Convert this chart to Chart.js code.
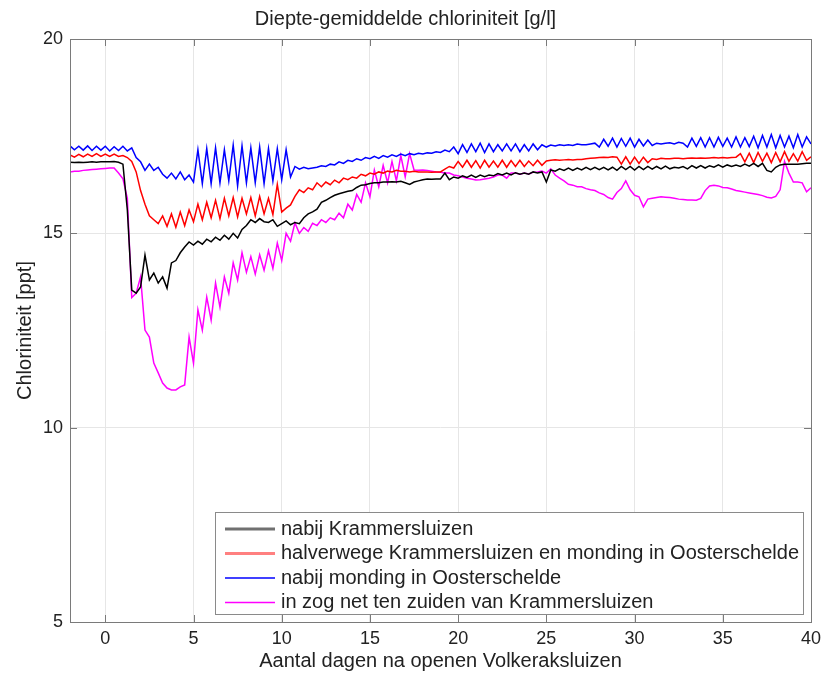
<!DOCTYPE html>
<html><head><meta charset="utf-8">
<script src="https://cdn.jsdelivr.net/npm/chart.js@4/dist/chart.umd.min.js"></script>
<style>html,body{margin:0;padding:0;background:#fff}#wrap{width:825px;height:678px}</style>
</head><body><div id="wrap"><canvas id="c" width="825" height="678"></canvas></div>
<script>
// ---- data (sampled every STEP days starting at START_DAY) ----
const START_DAY = -2, STEP = 0.25;
const xTickValues = [0, 5, 10, 15, 20, 25, 30, 35, 40];
const yTickValues = [5, 10, 15, 20];
const seriesLabels = [
  'nabij Krammersluizen',
  'halverwege Krammersluizen en monding in Oosterschelde',
  'nabij monding in Oosterschelde',
  'in zog net ten zuiden van Krammersluizen'
];
const black = [
16.83,16.82,16.83,16.82, 16.83,16.84,16.83,16.84, 16.84,16.84,16.85,16.83,
16.78,15.60,13.54,13.46, 13.62,14.44,13.80,13.98, 13.72,13.88,13.59,14.24,
14.30,14.50,14.65,14.78, 14.70,14.80,14.72,14.85, 14.78,14.90,14.82,14.95,
14.85,15.00,14.88,15.10, 15.20,15.35,15.28,15.38, 15.30,15.28,15.35,15.18,
15.25,15.32,15.22,15.28, 15.25,15.40,15.50,15.55, 15.62,15.80,15.85,15.92,
15.98,16.02,16.05,16.08, 16.10,16.18,16.24,16.25, 16.28,16.30,16.30,16.32,
16.32,16.33,16.32,16.34, 16.30,16.26,16.32,16.35, 16.38,16.40,16.39,16.40,
16.40,16.55,16.38,16.45, 16.42,16.48,16.44,16.50, 16.44,16.50,16.46,16.50,
16.48,16.54,16.50,16.55, 16.50,16.56,16.52,16.55, 16.52,16.58,16.55,16.58,
16.32,16.63,16.60,16.66, 16.62,16.68,16.62,16.68, 16.63,16.70,16.64,16.70,
16.64,16.70,16.63,16.70, 16.62,16.72,16.64,16.72, 16.63,16.72,16.64,16.72,
16.65,16.72,16.66,16.73, 16.66,16.70,16.68,16.72, 16.66,16.74,16.68,16.74,
16.68,16.74,16.70,16.76, 16.70,16.76,16.72,16.76, 16.72,16.78,16.73,16.80,
16.72,16.80,16.62,16.58, 16.70,16.76,16.78,16.78, 16.78,16.78,16.79,16.80,
16.80
];
const red = [
17.02,16.96,17.03,16.97, 17.04,16.98,17.05,16.98, 17.04,16.98,17.04,16.98,
17.00,16.95,16.85,16.58, 16.10,15.75,15.45,15.35, 15.25,15.45,15.18,15.50,
15.16,15.55,15.20,15.60, 15.30,15.75,15.35,15.80, 15.40,15.85,15.38,15.90,
15.45,15.92,15.42,15.90, 15.50,15.92,15.45,15.95, 15.50,15.90,15.48,16.26,
15.55,15.65,15.73,15.95, 16.12,16.05,16.17,16.12, 16.30,16.20,16.32,16.25,
16.37,16.30,16.42,16.38, 16.45,16.42,16.52,16.48, 16.55,16.52,16.58,16.55,
16.60,16.58,16.62,16.60, 16.60,16.58,16.60,16.58, 16.58,16.58,16.57,16.58,
16.58,16.65,16.72,16.68, 16.85,16.70,16.88,16.70, 16.87,16.68,16.88,16.70,
16.86,16.70,16.88,16.70, 16.87,16.72,16.88,16.72, 16.86,16.74,16.88,16.75,
16.86,16.88,16.89,16.88, 16.89,16.90,16.89,16.90, 16.90,16.92,16.93,16.94,
16.95,16.96,16.95,16.97, 16.96,16.78,16.97,16.78, 16.96,16.80,16.96,16.82,
16.92,16.90,16.93,16.92, 16.92,16.93,16.93,16.92, 16.93,16.94,16.93,16.94,
16.93,16.94,16.95,16.94, 16.95,16.94,16.95,16.96, 17.05,16.84,17.06,16.82,
17.08,16.85,17.06,16.82, 17.08,16.84,17.10,16.85, 17.05,16.86,17.10,16.88,
16.97
];
const blue = [
17.25,17.15,17.24,17.14, 17.25,17.13,17.24,17.14, 17.24,17.12,17.23,17.13,
17.24,17.12,17.20,16.95, 16.84,16.62,16.78,16.62, 16.70,16.52,16.42,16.55,
16.40,16.58,16.38,16.50, 16.32,17.15,16.28,17.18, 16.28,17.20,16.30,17.15,
16.35,17.27,16.22,17.25, 16.30,17.20,16.30,17.22, 16.28,17.18,16.35,17.18,
16.38,17.15,16.45,16.72, 16.65,16.70,16.66,16.68, 16.70,16.74,16.72,16.78,
16.76,16.84,16.80,16.88, 16.85,16.92,16.88,16.95, 16.92,16.98,16.93,17.00,
16.96,17.02,16.98,17.04, 17.00,17.05,17.02,17.06, 17.04,17.07,17.06,17.10,
17.08,17.14,17.10,17.22, 17.05,17.28,17.08,17.30, 17.10,17.32,17.08,17.30,
17.10,17.28,17.12,17.30, 17.12,17.30,17.10,17.28, 17.12,17.30,17.15,17.28,
17.22,17.27,17.25,17.28, 17.26,17.28,17.26,17.30, 17.28,17.28,17.30,17.32,
17.22,17.42,17.24,17.45, 17.22,17.44,17.24,17.45, 17.22,17.42,17.25,17.40,
17.26,17.32,17.30,17.32, 17.33,17.30,17.34,17.32, 17.22,17.45,17.24,17.46,
17.22,17.46,17.22,17.47, 17.24,17.45,17.22,17.48, 17.22,17.46,17.23,17.50,
17.20,17.52,17.22,17.54, 17.20,17.52,17.22,17.50, 17.20,17.54,17.22,17.48,
17.30
];
const magenta = [
16.58,16.60,16.60,16.62, 16.63,16.64,16.65,16.66, 16.67,16.68,16.68,16.55,
16.40,15.90,13.35,13.46, 13.88,12.51,12.33,11.66, 11.41,11.15,11.02,10.97,
10.97,11.05,11.10,12.33, 11.66,13.03,12.51,13.36, 12.77,13.72,13.10,13.88,
13.46,14.24,13.80,14.50, 14.00,14.40,13.95,14.45, 14.05,14.55,14.10,14.75,
14.30,15.00,14.80,15.27, 15.00,15.15,15.05,15.26, 15.20,15.35,15.28,15.40,
15.35,15.52,15.40,15.75, 15.60,16.00,15.80,16.30, 15.94,16.63,16.20,16.75,
16.30,16.85,16.35,17.00, 16.45,17.05,16.63,16.62, 16.63,16.62,16.60,16.58,
16.57,16.55,16.55,16.50, 16.48,16.45,16.42,16.40, 16.37,16.38,16.40,16.42,
16.45,16.50,16.50,16.42, 16.55,16.55,16.52,16.55, 16.53,16.57,16.58,16.60,
16.55,16.66,16.50,16.42, 16.35,16.26,16.24,16.20, 16.20,16.15,16.12,16.10,
16.04,16.00,15.92,15.88, 16.05,16.15,16.35,16.12, 15.98,15.94,15.68,15.88,
15.90,15.92,15.94,15.93, 15.92,15.90,15.88,15.87, 15.86,15.86,15.85,15.90,
16.10,16.22,16.24,16.22, 16.18,16.17,16.14,16.10, 16.08,16.06,16.04,16.02,
16.00,15.97,15.93,15.91, 15.95,16.12,16.85,16.55, 16.32,16.32,16.30,16.07,
16.17
];
const seriesValues = [black, red, blue, magenta];
const lineColors = ['#000000', '#ff0000', '#0000ff', '#ff00ff'];
const legendLineColors = ['#707070', '#ff8080', '#0000ff', '#ff00ff'];
const legendLineWidths = [3, 3, 1.5, 1.5];

const FONT = '"Liberation Sans", Arial, Helvetica, sans-serif';
const AXIS_COLOR = '#7a7a7a';
const TEXT_COLOR = '#222222';

function toPoints(arr) { return arr.map((v, i) => ({ x: START_DAY + i * STEP, y: v })); }

const boxPlugin = {
  id: 'boxAndTicks',
  afterDatasetsDraw(chart) {
    const { ctx, chartArea: a, scales } = chart;
    ctx.save();
    ctx.strokeStyle = AXIS_COLOR;
    ctx.lineWidth = 1;
    const tl = 7;
    ctx.beginPath();
    xTickValues.forEach(v => {
      const px = Math.round(scales.x.getPixelForValue(v)) + 0.5;
      ctx.moveTo(px, a.bottom); ctx.lineTo(px, a.bottom - tl);
      ctx.moveTo(px, a.top); ctx.lineTo(px, a.top + tl);
    });
    yTickValues.forEach(v => {
      const py = Math.round(scales.y.getPixelForValue(v)) + 0.5;
      ctx.moveTo(a.left, py); ctx.lineTo(a.left + tl, py);
      ctx.moveTo(a.right, py); ctx.lineTo(a.right - tl, py);
    });
    ctx.stroke();
    ctx.strokeRect(Math.round(a.left) + 0.5, Math.round(a.top) + 0.5,
      Math.round(a.right - a.left), Math.round(a.bottom - a.top));
    ctx.restore();
  }
};

const legendPlugin = {
  id: 'insideLegend',
  afterDraw(chart) {
    const { ctx, chartArea: a } = chart;
    const left = a.left + 145, right = a.right - 8, top = a.bottom - 110, bottom = a.bottom - 8;
    ctx.save();
    ctx.fillStyle = '#ffffff';
    ctx.fillRect(left, top, right - left, bottom - top);
    ctx.strokeStyle = '#8a8a8a';
    ctx.lineWidth = 1;
    ctx.strokeRect(left + 0.5, top + 0.5, right - left, bottom - top);
    ctx.font = '20px ' + FONT;
    ctx.textBaseline = 'middle';
    ctx.fillStyle = TEXT_COLOR;
    chart.data.datasets.forEach((ds, i) => {
      const y = top + 17 + i * 24.5;
      ctx.strokeStyle = legendLineColors[i];
      ctx.lineWidth = legendLineWidths[i];
      ctx.beginPath(); ctx.moveTo(left + 10, y); ctx.lineTo(left + 60, y); ctx.stroke();
      ctx.fillText(ds.label, left + 66, y);
    });
    ctx.restore();
  }
};

new Chart(document.getElementById('c'), {
  type: 'line',
  data: {
    datasets: seriesValues.map((vals, i) => ({
      label: seriesLabels[i],
      data: toPoints(vals),
      borderColor: lineColors[i],
      backgroundColor: lineColors[i],
      borderWidth: 1.5,
      pointRadius: 0,
      tension: 0,
      fill: false
    }))
  },
  options: {
    responsive: false,
    animation: false,
    devicePixelRatio: 1,
    layout: { padding: { left: 0, right: 14, top: 0, bottom: 0 } },
    plugins: {
      legend: { display: false },
      tooltip: { enabled: false },
      title: {
        display: true,
        text: 'Diepte-gemiddelde chloriniteit [g/l]',
        color: TEXT_COLOR,
        font: { family: FONT, size: 20, weight: 'normal' },
        padding: { top: 7, bottom: 8 }
      }
    },
    scales: {
      x: {
        type: 'linear', min: -2, max: 40,
        afterBuildTicks: s => { s.ticks = xTickValues.map(v => ({ value: v })); },
        afterFit: s => { s.height = 56; s.paddingRight = 0; s.paddingLeft = 0; },
        ticks: { color: TEXT_COLOR, font: { family: FONT, size: 18 }, padding: 6, maxRotation: 0, autoSkip: false },
        grid: { color: '#e6e6e6', drawTicks: false },
        border: { display: false },
        title: { display: true, text: 'Aantal dagen na openen Volkeraksluizen', color: TEXT_COLOR,
          font: { family: FONT, size: 20 }, padding: { top: 0, bottom: 5 } }
      },
      y: {
        type: 'linear', min: 5, max: 20,
        afterBuildTicks: s => { s.ticks = yTickValues.map(v => ({ value: v })); },
        afterFit: s => { s.width = 70; },
        ticks: { color: TEXT_COLOR, font: { family: FONT, size: 18 }, padding: 7 },
        grid: { color: '#e6e6e6', drawTicks: false },
        border: { display: false },
        title: { display: true, text: 'Chloriniteit [ppt]', color: TEXT_COLOR,
          font: { family: FONT, size: 20 }, padding: { top: 13, bottom: 0 } }
      }
    }
  },
  plugins: [boxPlugin, legendPlugin]
});
</script>
</body></html>
